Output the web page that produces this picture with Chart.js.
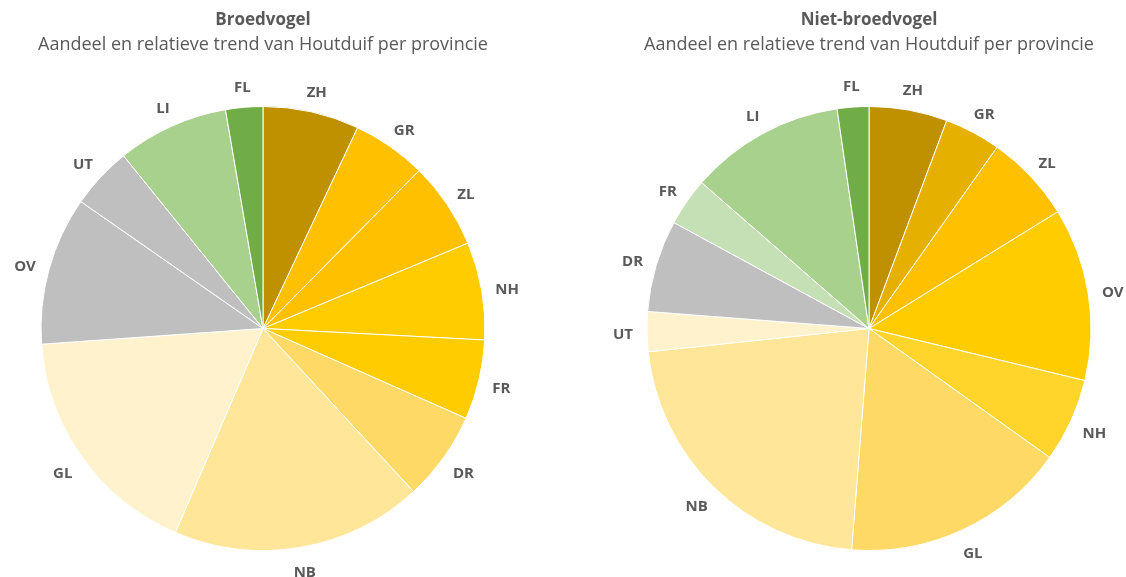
<!DOCTYPE html>
<html>
<head>
<meta charset="utf-8">
<script src="https://cdn.jsdelivr.net/npm/chart.js@4.4.1/dist/chart.umd.min.js"></script>
<style>
  body { margin: 0; background: #fff; }
  .box { position: absolute; top: 0; width: 514px; height: 577px; }
</style>
</head>
<body>
<div class="box" style="left:6px"><canvas id="chartBroed"></canvas></div>
<div class="box" style="left:612px"><canvas id="chartNiet"></canvas></div>
<script>
// Broedvogel: share per province (%), clockwise from top
const broedLabels = ['ZH', 'GR', 'ZL', 'NH', 'FR', 'DR', 'NB', 'GL', 'OV', 'UT', 'LI', 'FL'];
const broedValues = [7.0, 5.4, 6.3, 7.1, 5.8, 6.5, 18.3, 17.4, 10.8, 4.5, 8.1, 2.7];
const broedColors = ['#BF9000', '#FFC000', '#FFC000', '#FFCC00', '#FFCC00', '#FFD966',
  '#FFE699', '#FFF2CC', '#BFBFBF', '#BFBFBF', '#A9D18E', '#70AD47'];

// Niet-broedvogel
const nietLabels = ['ZH', 'GR', 'ZL', 'OV', 'NH', 'GL', 'NB', 'UT', 'DR', 'FR', 'LI', 'FL'];
const nietValues = [5.7, 4.1, 6.4, 12.6, 6.1, 16.4, 22.1, 2.9, 6.7, 3.5, 11.3, 2.3];
const nietColors = ['#BF9000', '#E6B000', '#FFC000', '#FFCC00', '#FFD52B', '#FFD966',
  '#FFE699', '#FFF2CC', '#BFBFBF', '#C5E0B4', '#A9D18E', '#70AD47'];

const subtitleText = 'Aandeel en relatieve trend van Houtduif per provincie';
const fontFam = "'Open Sans', 'Noto Sans', sans-serif";

// labels outside the slices
const outsideLabels = {
  id: 'outsideLabels',
  afterDatasetsDraw(chart) {
    const c = chart.ctx;
    const meta = chart.getDatasetMeta(0);
    c.save();
    c.font = 'bold 15px ' + fontFam;
    c.fillStyle = '#595959';
    c.textAlign = 'center';
    c.textBaseline = 'middle';
    meta.data.forEach(function(arc, i) {
      const mid = (arc.startAngle + arc.endAngle) / 2;
      const txt = chart.data.labels[i];
      const w = c.measureText(txt).width;
      const r = arc.outerRadius + 14;
      const cx = Math.cos(mid), sy = Math.sin(mid);
      const x = arc.x + cx * r + cx * w / 2;
      const y = arc.y + sy * r + sy * 9 + 3;
      c.fillText(txt, x, y);
    });
    c.restore();
  }
};

function makePie(el, title, labels, values, colors) {
  new Chart(document.getElementById(el), {
    type: 'pie',
    data: {
      labels: labels,
      datasets: [{
        data: values,
        backgroundColor: colors,
        borderColor: '#ffffff',
        borderWidth: 1
      }]
    },
    options: {
      responsive: true,
      maintainAspectRatio: false,
      animation: false,
      layout: { padding: { top: 0, bottom: 26, left: 0, right: 0 } },
      plugins: {
        legend: { display: false },
        tooltip: { enabled: false },
        title: {
          display: true,
          text: title,
          color: '#595959',
          font: { family: fontFam, size: 17, weight: 'bold', lineHeight: 1.2 },
          padding: { top: 10, bottom: 2 }
        },
        subtitle: {
          display: true,
          text: subtitleText,
          color: '#595959',
          font: { family: fontFam, size: 18, lineHeight: 1.2 },
          padding: { top: 2, bottom: 50 }
        }
      }
    },
    plugins: [outsideLabels]
  });
}

makePie('chartBroed', 'Broedvogel', broedLabels, broedValues, broedColors);
makePie('chartNiet', 'Niet-broedvogel', nietLabels, nietValues, nietColors);
</script>
</body>
</html>
